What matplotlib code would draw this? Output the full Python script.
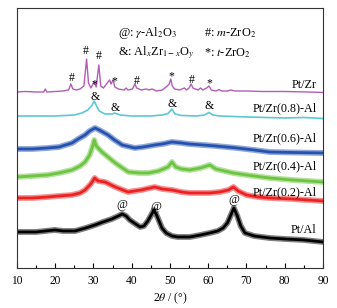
"""
XRD patterns of Pt/Zr-Al catalysts
"""
import matplotlib
import matplotlib.pyplot as plt
from matplotlib.ticker import MultipleLocator
matplotlib.use('Agg')

plt.rcParams['font.family'] = 'serif'
plt.rcParams['font.serif'] = ['Liberation Serif', 'DejaVu Serif']
plt.rcParams['mathtext.fontset'] = 'stix'

# intensity values (a.u., curves already stacked)
zr_x = [10, 12, 15, 17, 17.4, 17.8, 20, 22, 23.5, 24.1, 24.6, 25.5, 26.5, 27.5, 28.2, 28.7,
        29.3, 30.2, 30.7, 31.4, 31.9, 32.6, 33.4, 34.2, 34.6, 35.1, 35.6, 36.5, 38.0, 38.5,
        39, 40.2, 40.8, 41.3, 42.5, 43.8, 44.5, 45.3, 46.5, 48, 49.3, 49.8, 50.2, 50.6, 51.2,
        52.5, 53.8, 54.3, 55.0, 55.5, 56.0, 57.3, 58.0, 58.6, 59.6, 60.2, 60.8, 62.0, 62.8,
        63.5, 65, 65.9, 67, 70, 74, 80, 86, 90]
zr_y = [176, 176.5, 176, 176, 179, 176, 176.5, 177, 178, 184, 179, 178, 179, 182, 209, 185,
        180, 186, 181, 203, 182, 180, 184, 188, 184, 188, 181, 179, 178, 180,
        178, 179, 184, 180, 178, 179, 178, 179, 177, 178, 182, 184, 189, 182, 179,
        178, 180, 178, 180, 184, 180, 178, 180, 178, 180, 182, 178, 177, 178.5,
        177, 177, 178, 177, 177, 176.5, 176.5, 176, 175.5]

zr08_x = [10, 20, 25, 27, 28.5, 29.5, 30.2, 30.8, 31.5, 33, 35, 35.5, 37, 40, 45, 48, 49.5,
          50.5, 51.3, 53, 57, 59, 60.2, 61.2, 63, 70, 80, 85, 90]
zr08_y = [152, 152, 153, 155, 158, 162, 167, 162, 157, 154, 154, 155, 153, 152, 152, 153,
          154.5, 159, 154, 152.5, 152, 153, 155.5, 153, 152, 151, 150, 150.5, 149.5]

zr06_x = [10, 14, 18, 21, 24.4, 26, 27.8, 29, 30.4, 31.5, 33.8, 35.5, 37.5, 40.8, 43, 46,
          48, 50.5, 53, 55, 58.6, 62, 67.5, 72, 76, 82, 90]
zr06_y = [119, 119, 120, 121, 125, 129, 133, 137, 140, 138, 133, 128, 123, 120, 121, 123,
          124, 126, 125, 124, 123, 122, 120, 118, 116, 115.5, 115]

zr04_x = [10, 14, 18, 21, 24.4, 26.5, 27.8, 29, 29.8, 30.2, 30.7, 32.2, 35.7, 39.1, 42,
          44.4, 47, 49.5, 50.5, 51.5, 53, 55.2, 58, 60.4, 62, 66.5, 70, 76, 82, 90]
zr04_y = [91, 92, 93, 95, 98, 102, 106, 113, 122, 128, 122, 116, 105, 96, 95,
          95, 97, 101, 106, 101, 99, 98, 100, 103, 99, 95, 93, 90, 88, 86]

zr02_x = [10, 14, 18, 21, 24.4, 26.5, 27.8, 29.3, 30.3, 31.2, 33, 35.7, 39, 42.5, 46, 48,
          50.5, 53, 55, 58, 60.4, 63, 65.3, 66.6, 67.8, 70, 73, 76, 82, 90]
zr02_y = [70, 70, 71, 72, 73, 75, 78, 84, 90, 87, 86, 81, 76, 78, 81, 79,
          78, 76, 75, 75, 75, 76, 78, 81, 77, 73, 71, 70, 69, 67]

al_x = [10, 15, 19.9, 22, 25.2, 28, 30.4, 32.5, 34.8, 36.5, 37.5, 38.5, 39.5, 41, 42.2, 43.2,
        44.2, 45.1, 45.8, 46.6, 47.9, 49, 50.5, 52, 55.2, 58, 60.4, 62.5, 63.9, 65.0, 65.7,
        66.7, 67.6, 68.5, 69.6, 72, 76, 80, 85, 90]
al_y = [36, 36, 38, 37, 37, 40, 43, 46, 49, 52, 54, 52, 48, 44, 41, 42,
        47, 53, 58, 52, 40, 35, 32, 31, 31, 33, 35, 37, 40, 45, 51,
        60, 52, 42, 35, 32, 30, 29, 28, 26]

curve_names = ['Pt/Zr', 'Pt/Zr(0.8)-Al', 'Pt/Zr(0.6)-Al', 'Pt/Zr(0.4)-Al',
               'Pt/Zr(0.2)-Al', 'Pt/Al']
label_y = [183, 160, 130, 102, 76, 38]

# phase markers: (symbol, 2theta, height)
markers = [('#', 24.3, 190), ('#', 28.0, 217), ('#', 31.4, 212), ('*', 30.1, 184),
           ('*', 35.4, 187), ('#', 41.3, 187), ('*', 50.3, 192), ('#', 55.7, 188),
           ('*', 60.2, 185),
           ('&', 30.4, 171), ('&', 35.6, 160), ('&', 50.5, 164), ('&', 60.2, 162),
           ('@', 37.5, 63), ('@', 46.3, 61), ('@', 66.7, 68)]

fig = plt.figure(figsize=(3.37, 3.08), dpi=100)
ax = fig.add_axes([0.0504, 0.13, 0.908, 0.844])

ax.plot(zr_x, zr_y, color='#b25cb8', lw=1.0)
ax.plot(zr08_x, zr08_y, color='#5cc8d6', lw=1.2)
noisy = [(zr06_x, zr06_y, '#2452b0'), (zr04_x, zr04_y, '#6cc441'),
         (zr02_x, zr02_y, '#ec2222'), (al_x, al_y, '#000000')]
for xs, ys, col in noisy:
    ax.plot(xs, ys, color=col, lw=4.2, alpha=0.5, solid_joinstyle='round')
    ax.plot(xs, ys, color=col, lw=2.0)

for name, yy in zip(curve_names, label_y):
    ax.text(88.3, yy, name, ha='right', va='center', fontsize=8.7)

for sym, xx, yy in markers:
    ax.text(xx, yy, sym, ha='center', va='center', fontsize=8.5)

ax.text(36.5, 235, r'@: $\gamma$-Al$_2$O$_3$', fontsize=8.8, va='center')
ax.text(58.8, 235, r'#: $m$-ZrO$_2$', fontsize=8.8, va='center')
ax.text(36.5, 215, r'&: Al$_x$Zr$_{1-x}$O$_y$', fontsize=8.8, va='center')
ax.text(58.8, 215, r'*: $t$-ZrO$_2$', fontsize=8.8, va='center')

ax.set_xlim(10, 90)
ax.set_ylim(0, 260)
ax.set_yticks([])
ax.xaxis.set_major_locator(MultipleLocator(10))
ax.xaxis.set_minor_locator(MultipleLocator(5))
ax.tick_params(axis='x', which='major', direction='in', length=3.5, width=0.8,
               labelsize=8.3, pad=5)
ax.tick_params(axis='x', which='minor', direction='in', length=2, width=0.8)
for sp in ax.spines.values():
    sp.set_linewidth(0.8)
    sp.set_color('#333333')
ax.set_xlabel(r'2$\theta$ / (°)', fontsize=8.5, labelpad=3)

fig.savefig('out.png', dpi=100)
